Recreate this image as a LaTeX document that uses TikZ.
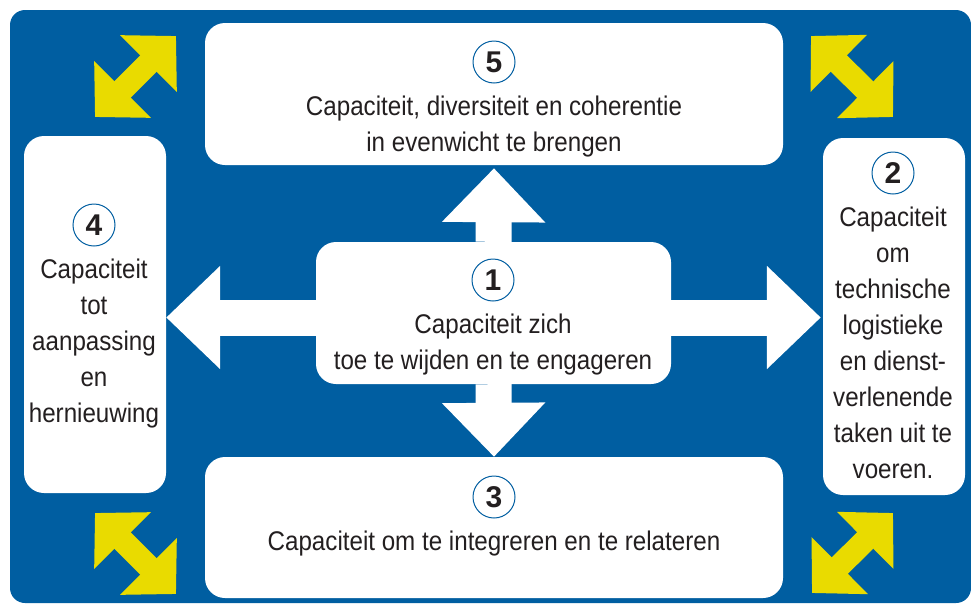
\documentclass[tikz,border=0pt]{standalone}
\usepackage{fontspec}
\setmainfont{Liberation Sans}[FakeStretch=0.895]
\newfontfamily\numfont{Liberation Sans}
\usetikzlibrary{positioning,arrows.meta}
\begin{document}
\begin{tikzpicture}[x=1pt,y=-1pt,
  capbox/.style 2 args={fill=white,rounded corners=20,minimum width=#1,minimum height=#2,inner sep=0},
  capnum/.style={circle,draw=capblue,line width=1pt,minimum size=42,inner sep=0,text=captext,font=\numfont\bfseries\fontsize{30}{30}\selectfont},
  captxt/.style={align=center,inner sep=0,text=captext,font=\fontsize{27}{36}\selectfont},
  whitearrow/.style={white,line width=36pt,-{Triangle[length=54pt,width=100pt]}},
  yellowarrow/.style={capyellow,line width=23pt,{Triangle[length=39pt,width=78pt]}-{Triangle[length=39pt,width=78pt]}}]
\definecolor{capblue}{HTML}{005EA1}
\definecolor{capyellow}{HTML}{E9DB00}
\definecolor{captext}{HTML}{231F20}
\useasboundingbox (0,0) rectangle (971,603);
\fill[capblue,rounded corners=15] (10,10) rectangle (971,603);
\node[capbox={578}{142}] (b5) at (494,94) {};
\node[capbox={142}{357}] (b4) at (95,314.5) {};
\node[capbox={142}{357}] (b2) at (894,316.5) {};
\node[capbox={578}{141}] (b3) at (494,527.5) {};
\node[capbox={355}{142}] (b1) at (493.5,313) {};
\coordinate (lw) at ([yshift=-4.5pt]b1.west);
\coordinate (le) at ([yshift=-4.5pt]b1.east);
\draw[whitearrow,shorten >=3pt] (b1.north) -- (b5.south);
\draw[whitearrow] (b1.south) -- (b3.north);
\draw[whitearrow] (lw) -- (lw -| b4.east);
\draw[whitearrow,shorten >=2pt] (le) -- (le -| b2.west);
\foreach \xa/\ya/\xb/\yb in {95/117/176/36,811/36/893/117,95/513/176/594,893/513/812/593}
  { \coordinate (ya) at (\xa,\ya);
    \coordinate (yb) at (\xb,\yb);
    \draw[yellowarrow] (ya) -- (yb);}
\node[capnum] (n5) at (494,62) {5};
\node[captxt,below=12pt of n5] (t5) {Capaciteit, diversiteit en coherentie\\in evenwicht te brengen};
\node[capnum] (n1) at (493,280) {1};
\node[captxt,below=12pt of n1] (t1) {Capaciteit zich\\toe te wijden en te engageren};
\node[capnum] (n3) at (494,497) {3};
\node[captxt,below=12pt of n3] (t3) {Capaciteit om te integreren en te relateren};
\node[capnum] (n4) at (94,225) {4};
\node[captxt,below=12pt of n4] (t4) {Capaciteit\\tot\\aanpassing\\en\\hernieuwing};
\node[capnum] (n2) at (893,173) {2};
\node[captxt,below=12pt of n2] (t2) {Capaciteit\\om\\technische\\logistieke\\en dienst-\\verlenende\\taken uit te\\voeren.};
\end{tikzpicture}
\end{document}
